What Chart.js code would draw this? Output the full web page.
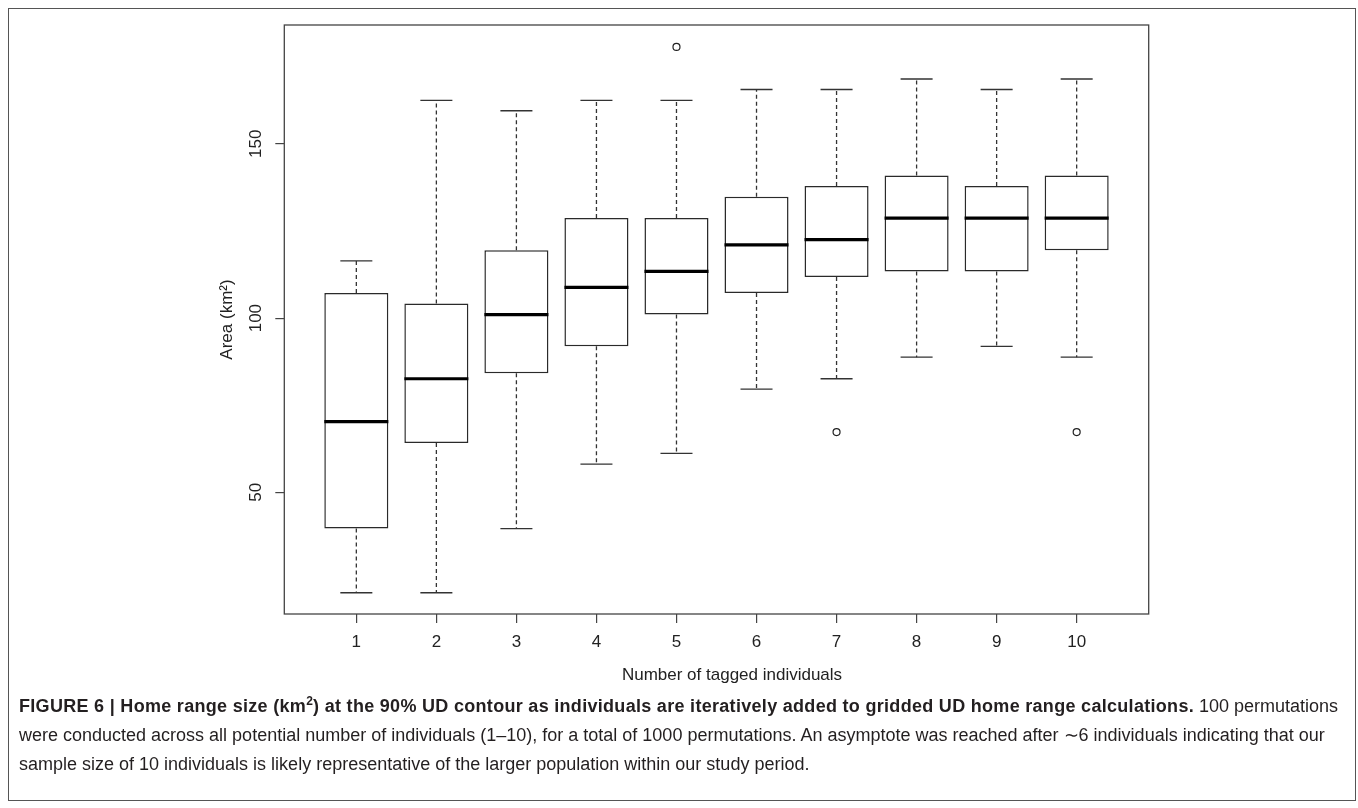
<!DOCTYPE html>
<html>
<head>
<meta charset="utf-8">
<script src="https://cdn.jsdelivr.net/npm/chart.js@4.4.1/dist/chart.umd.min.js"></script>
<style>
  body { margin: 0; background: #fff; }
  #page { position: relative; width: 1358px; height: 808px; overflow: hidden; background: #fff; }
  #outer { position: absolute; left: 8px; top: 8px; width: 1348px; height: 793px; border: 1px solid #555; box-sizing: border-box; }
  #area-chart { position: absolute; left: 0; top: 0; }
  #xtitle { position: absolute; left: 532px; top: 665px; width: 400px; text-align: center; line-height: 20px;
            font-family: 'Liberation Sans', Arial, sans-serif; font-size: 17px; color: #222; white-space: nowrap; }
  #caption { position: absolute; left: 19px; top: 692px; font-family: 'Liberation Sans', Arial, sans-serif;
             font-size: 18px; line-height: 29px; color: #231f20; white-space: nowrap; }
  #caption b { letter-spacing: 0.3px; }
  #caption sup { font-size: 12px; line-height: 0; vertical-align: 7px; }
</style>
</head>
<body>
<div id="page">
  <div id="outer"></div>
  <canvas id="area-chart" width="1358" height="700"></canvas>
  <div id="xtitle">Number of tagged individuals</div>
  <div id="caption">
    <b>FIGURE 6 | Home range size (km<sup>2</sup>) at the 90% UD contour as individuals are iteratively added to gridded UD home range calculations.</b> 100 permutations<br>
    were conducted across all potential number of individuals (1–10), for a total of 1000 permutations. An asymptote was reached after ∼6 individuals indicating that our<br>
    sample size of 10 individuals is likely representative of the larger population within our study period.
  </div>
</div>
<script>
  // number of tagged individuals
  const categories = [1, 2, 3, 4, 5, 6, 7, 8, 9, 10];
  const yTicks = [50, 100, 150];

  // box stats (km2)
  const lowerWhisker = [21.2, 21.2, 39.6, 58.1, 61.2, 79.6, 82.6, 88.8, 91.9, 88.8];
  const q1 = [39.6, 64.2, 84.2, 91.9, 101.0, 107.2, 111.8, 113.4, 113.4, 119.5];
  const median = [70.3, 82.6, 101.0, 108.8, 113.4, 121.0, 122.5, 128.7, 128.7, 128.7];
  const q3 = [107.2, 104.2, 119.5, 128.7, 128.7, 134.8, 137.9, 140.9, 137.9, 140.9];
  const upperWhisker = [116.4, 162.5, 159.5, 162.5, 162.5, 165.6, 165.6, 168.6, 165.6, 168.6];

  const outlierX = [5, 7, 10];
  const outlierY = [177.8, 67.3, 67.3];

  Chart.defaults.font.family = "'Liberation Sans', Arial, sans-serif";
  Chart.defaults.color = '#222';

  // full frame round the plot region
  const framePlugin = {
    id: 'frame',
    afterDraw(chart) {
      const a = chart.chartArea;
      const ctx = chart.ctx;
      ctx.save();
      ctx.strokeStyle = '#444';
      ctx.lineWidth = 1.3;
      ctx.strokeRect(a.left, a.top, a.right - a.left, a.bottom - a.top);
      ctx.restore();
    }
  };

  // whiskers, caps and medians
  const boxPlugin = {
    id: 'boxparts',
    afterDatasetsDraw(chart) {
      const xs = chart.scales.x;
      const ys = chart.scales.y;
      const meta = chart.getDatasetMeta(0);
      const ctx = chart.ctx;
      ctx.save();
      categories.forEach(function (c, i) {
        const px = xs.getPixelForValue(c);
        const half = meta.data[i].width / 2;
        const cap = half / 2;

        ctx.strokeStyle = '#333';
        ctx.lineWidth = 1.3;
        ctx.setLineDash([4, 3]);
        ctx.beginPath();
        ctx.moveTo(px, ys.getPixelForValue(q3[i]));
        ctx.lineTo(px, ys.getPixelForValue(upperWhisker[i]));
        ctx.moveTo(px, ys.getPixelForValue(q1[i]));
        ctx.lineTo(px, ys.getPixelForValue(lowerWhisker[i]));
        ctx.stroke();

        ctx.setLineDash([]);
        ctx.beginPath();
        ctx.moveTo(px - cap, ys.getPixelForValue(upperWhisker[i]));
        ctx.lineTo(px + cap, ys.getPixelForValue(upperWhisker[i]));
        ctx.moveTo(px - cap, ys.getPixelForValue(lowerWhisker[i]));
        ctx.lineTo(px + cap, ys.getPixelForValue(lowerWhisker[i]));
        ctx.stroke();

        ctx.strokeStyle = '#000';
        ctx.lineWidth = 3.2;
        ctx.beginPath();
        ctx.moveTo(px - half, ys.getPixelForValue(median[i]));
        ctx.lineTo(px + half, ys.getPixelForValue(median[i]));
        ctx.stroke();
      });
      ctx.restore();
    }
  };

  const ctx = document.getElementById('area-chart').getContext('2d');
  new Chart(ctx, {
    type: 'bar',
    data: {
      datasets: [
        {
          type: 'bar',
          label: 'IQR',
          data: categories.map((c, i) => ({ x: c, y: [q1[i], q3[i]] })),
          backgroundColor: '#fff',
          borderColor: '#2a2a2a',
          borderWidth: 1.5,
          borderSkipped: false,
          barPercentage: 0.8,
          categoryPercentage: 1.0,
        },
        {
          type: 'line',
          label: 'Outliers',
          data: outlierX.map((x, i) => ({ x: x, y: outlierY[i] })),
          showLine: false,
          pointStyle: 'circle',
          pointRadius: 3.5,
          pointBorderWidth: 1.2,
          pointBorderColor: '#222',
          pointBackgroundColor: '#fff',
        }
      ]
    },
    options: {
      responsive: false,
      animation: false,
      layout: { padding: { left: 213, right: 209.3, top: 25, bottom: 6 } },
      plugins: {
        legend: { display: false },
        tooltip: { enabled: false },
      },
      scales: {
        x: {
          type: 'linear',
          min: 0.1,
          max: 10.9,
          offset: false,
          afterBuildTicks: function (scale) {
            scale.ticks = categories.map(v => ({ value: v }));
          },
          afterFit: function (scale) { scale.height = 80; },
          grid: { offset: false, drawOnChartArea: false, drawTicks: true, tickLength: 9, color: '#444', lineWidth: 1.2 },
          border: { display: false },
          ticks: {
            font: { size: 17 },
            color: '#222',
            padding: 9,
            maxRotation: 0,
            autoSkip: false,
            callback: v => String(v),
          },
        },
        y: {
          min: 15.1,
          max: 184.1,
          afterBuildTicks: function (scale) {
            scale.ticks = yTicks.map(v => ({ value: v }));
          },
          afterFit: function (scale) { scale.width = 71.3; },
          grid: { drawOnChartArea: false, drawTicks: true, tickLength: 9, color: '#444', lineWidth: 1.2 },
          border: { display: false },
          ticks: {
            font: { size: 17 },
            color: '#222',
            padding: 5,
            minRotation: 90,
            maxRotation: 90,
            crossAlign: 'center',
            callback: v => String(v),
          },
          title: {
            display: true,
            text: 'Area (km²)',
            font: { size: 17 },
            color: '#222',
            padding: { top: 4, bottom: 0 },
          },
        },
      },
    },
    plugins: [framePlugin, boxPlugin],
  });
</script>
</body>
</html>
